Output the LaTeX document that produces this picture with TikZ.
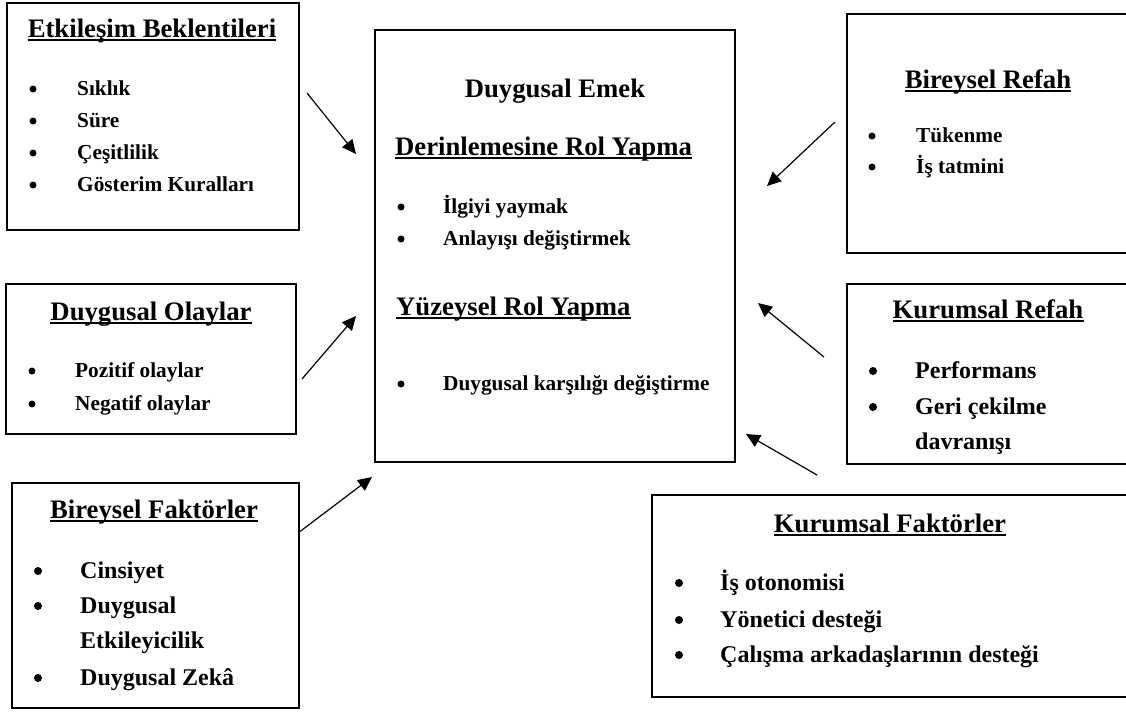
\documentclass[tikz,border=0pt]{standalone}
\usepackage{fontspec}
\setmainfont{Liberation Serif}
\usetikzlibrary{arrows.meta}
\tikzset{
  box/.style={draw=black, line width=2.2pt, rectangle, inner sep=0pt, anchor=north west},
  hd/.style={font=\fontsize{26.7}{30}\selectfont\bfseries, anchor=base, inner sep=0pt},
  hdw/.style={font=\fontsize{26.7}{30}\selectfont\bfseries, anchor=base west, inner sep=0pt},
  it/.style={font=\fontsize{21.3}{25}\selectfont\bfseries, anchor=base west, inner sep=0pt},
  itl/.style={font=\fontsize{24}{28}\selectfont\bfseries, anchor=base west, inner sep=0pt},
  ul/.style={line width=1.8pt},
  arr/.style={line width=1.2pt, -{Triangle[length=14pt,width=13pt]}},
  bul/.style={fill=black, circle, inner sep=0pt, minimum size=7pt},
  bulL/.style={fill=black, circle, inner sep=0pt, minimum size=8pt},
}
\newcommand{\uline}[1]{\draw[ul] ([yshift=-3pt]#1.base west) -- ([yshift=-3pt]#1.base east);}
\begin{document}
\begin{tikzpicture}[x=1pt,y=-1pt]
\useasboundingbox (0,0) rectangle (1126,713);
\clip (0,0) rectangle (1126,713);
\fill[white] (0,0) rectangle (1126,713);

% boxes
\node[box, minimum width=292pt, minimum height=227pt] (E) at (6,2) {};
\node[box, minimum width=360pt, minimum height=432pt] (C) at (374,29) {};
\node[box, minimum width=290pt, minimum height=239pt] (BR) at (846,13) {};
\node[box, minimum width=290pt, minimum height=150pt] (DO) at (5,283) {};
\node[box, minimum width=287pt, minimum height=225pt] (BF) at (11,482) {};
\node[box, minimum width=290pt, minimum height=180pt] (KR) at (846,283) {};
\node[box, minimum width=485pt, minimum height=202pt] (KF) at (651,494) {};

% Etkilesim Beklentileri
\node[hd] (Eh) at (152,37) {Etkileşim Beklentileri}; \uline{Eh}
\node[bul] (Eb1) at (33,89) {}; \node[it] (Ei1) at (77,95) {Sıklık};
\node[bul] (Eb2) at (33,121) {}; \node[it] (Ei2) at (77,127) {Süre};
\node[bul] (Eb3) at (33,153) {}; \node[it] (Ei3) at (77,159) {Çeşitlilik};
\node[bul] (Eb4) at (33,185) {}; \node[it] (Ei4) at (77,191) {Gösterim Kuralları};

% Central
\node[hd] (Ch) at (555,97) {Duygusal Emek};
\node[hdw] (Cd) at (395,155) {Derinlemesine Rol Yapma}; \uline{Cd}
\node[bul] (Cb1) at (401,207) {}; \node[it] (Ci1) at (443,213) {İlgiyi yaymak};
\node[bul] (Cb2) at (401,239) {}; \node[it] (Ci2) at (443,245) {Anlayışı değiştirmek};
\node[hdw] (Cy) at (396,315) {Yüzeysel Rol Yapma}; \uline{Cy}
\node[bul] (Cb3) at (401,384) {}; \node[it] (Ci3) at (443,390) {Duygusal karşılığı değiştirme};

% Bireysel Refah
\node[hd] (BRh) at (988,88) {Bireysel Refah}; \uline{BRh}
\node[bul] (BRb1) at (872,136) {}; \node[it] (BRi1) at (916,142) {Tükenme};
\node[bul] (BRb2) at (872,167) {}; \node[it] (BRi2) at (916,173) {İş tatmini};

% Duygusal Olaylar
\node[hd] (DOh) at (151,320) {Duygusal Olaylar}; \uline{DOh}
\node[bul] (DOb1) at (32,371) {}; \node[it] (DOi1) at (75,377) {Pozitif olaylar};
\node[bul] (DOb2) at (32,404) {}; \node[it] (DOi2) at (75,410) {Negatif olaylar};

% Bireysel Faktorler
\node[hd] (BFh) at (154,518) {Bireysel Faktörler}; \uline{BFh}
\node[bulL] (BFb1) at (38,571) {}; \node[itl] (BFi1) at (80,578) {Cinsiyet};
\node[bulL] (BFb2) at (38,606) {}; \node[itl] (BFi2) at (80,613) {Duygusal};
\node[itl] (BFi3) at (80,648) {Etkileyicilik};
\node[bulL] (BFb4) at (38,678) {}; \node[itl] (BFi4) at (80,685) {Duygusal Zekâ};

% Kurumsal Refah
\node[hd] (KRh) at (988,318) {Kurumsal Refah}; \uline{KRh}
\node[bulL] (KRb1) at (873,371) {}; \node[itl] (KRi1) at (915,378) {Performans};
\node[bulL] (KRb2) at (873,407) {}; \node[itl] (KRi2) at (915,414) {Geri çekilme};
\node[itl] (KRi3) at (915,449) {davranışı};

% Kurumsal Faktorler
\node[hd] (KFh) at (890,532) {Kurumsal Faktörler}; \uline{KFh}
\node[bulL] (KFb1) at (679,583) {}; \node[itl] (KFi1) at (720,590) {İş otonomisi};
\node[bulL] (KFb2) at (679,620) {}; \node[itl] (KFi2) at (720,627) {Yönetici desteği};
\node[bulL] (KFb3) at (679,655) {}; \node[itl] (KFi3) at (720,662) {Çalışma arkadaşlarının desteği};

% arrow end points
\coordinate (a1s) at (307,93);  \coordinate (a1e) at (356,154);
\coordinate (a2s) at (302,379); \coordinate (a2e) at (356,316);
\coordinate (a3s) at (298,533); \coordinate (a3e) at (372,477);
\coordinate (a4s) at (835,122); \coordinate (a4e) at (767,186);
\coordinate (a5s) at (824,357); \coordinate (a5e) at (758,303);
\coordinate (a6s) at (817,475); \coordinate (a6e) at (746,434);
\draw[arr] (a1s) -- (a1e);
\draw[arr] (a2s) -- (a2e);
\draw[arr] (a3s) -- (a3e);
\draw[arr] (a4s) -- (a4e);
\draw[arr] (a5s) -- (a5e);
\draw[arr] (a6s) -- (a6e);
\end{tikzpicture}
\end{document}
